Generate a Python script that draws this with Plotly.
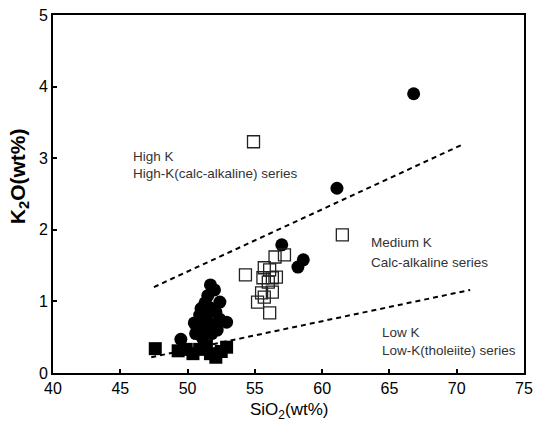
import plotly.graph_objects as go

# Filled circles
circ_sio2 = [51.7, 52.0, 51.5, 51.3, 52.4, 51.0, 51.6, 50.9, 51.4, 52.1, 50.5, 51.0,
             51.6, 52.9, 52.4, 51.1, 50.7, 51.5, 52.2, 49.5, 51.1, 50.6, 51.8,
             57.0, 58.6, 58.2, 61.1, 66.8]
circ_k2o = [1.23, 1.16, 1.08, 0.98, 0.99, 0.90, 0.92, 0.81, 0.82, 0.85, 0.70, 0.72,
            0.70, 0.71, 0.75, 0.60, 0.62, 0.64, 0.60, 0.47, 0.49, 0.55, 0.55,
            1.79, 1.58, 1.48, 2.58, 3.90]

# Filled squares
sq_sio2 = [47.6, 49.3, 49.9, 50.4, 50.9, 51.4, 51.7, 52.1, 52.5, 52.9]
sq_k2o = [0.34, 0.31, 0.33, 0.27, 0.33, 0.38, 0.27, 0.22, 0.30, 0.36]

# Open squares
osq_sio2 = [54.9, 61.5, 56.5, 57.2, 54.3, 55.7, 55.6, 56.3, 56.6, 56.1, 55.5, 56.3,
            55.2, 56.1, 56.0, 55.7]
osq_k2o = [3.23, 1.93, 1.62, 1.65, 1.37, 1.47, 1.33, 1.33, 1.34, 1.44, 1.12, 1.13,
           0.99, 0.84, 1.27, 1.06]

# Series boundary lines
high_k_x = [47.5, 70.3]
high_k_y = [1.20, 3.18]
low_k_x = [47.3, 71.0]
low_k_y = [0.22, 1.16]

x_ticks = [40, 45, 50, 55, 60, 65, 70, 75]
y_ticks = [0, 1, 2, 3, 4, 5]

fig = go.Figure()

dash_line = dict(color="black", width=2, dash="5px,4px")
fig.add_trace(go.Scatter(x=high_k_x, y=high_k_y, mode="lines", line=dash_line))
fig.add_trace(go.Scatter(x=low_k_x, y=low_k_y, mode="lines", line=dash_line))

fig.add_trace(go.Scatter(x=circ_sio2, y=circ_k2o, mode="markers",
                         marker=dict(symbol="circle", size=13, color="black",
                                     line=dict(width=0))))
fig.add_trace(go.Scatter(x=sq_sio2, y=sq_k2o, mode="markers",
                         marker=dict(symbol="square", size=13, color="black",
                                     line=dict(width=0))))
fig.add_trace(go.Scatter(x=osq_sio2, y=osq_k2o, mode="markers",
                         marker=dict(symbol="square-open", size=12, color="#222",
                                     line=dict(width=1.3))))

label_font = dict(family="Liberation Sans, Arial", size=13.5, color="#333")
labels = [
    (45.8, 3.02, "High K"),
    (45.8, 2.78, "High-K(calc-alkaline) series"),
    (63.5, 1.82, "Medium K"),
    (63.5, 1.55, "Calc-alkaline series"),
    (64.3, 0.57, "Low K"),
    (64.3, 0.32, "Low-K(tholeiite) series"),
]
for x, y, t in labels:
    fig.add_annotation(x=x, y=y, text=t, showarrow=False, xanchor="left",
                       yanchor="middle", font=label_font)

# Axis titles
fig.add_annotation(x=-0.072, y=0.55, xref="paper", yref="paper",
                   text="<b>K<sub>2</sub>O(wt%)</b>",
                   showarrow=False, textangle=-90, xanchor="center", yanchor="middle",
                   font=dict(family="Liberation Sans, Arial", size=21, color="black"))
fig.add_annotation(x=0.5, y=0.0, xref="paper", yref="paper", text="SiO<sub>2</sub>(wt%)",
                   showarrow=False, xanchor="center", yanchor="middle", yshift=-38,
                   font=dict(family="Liberation Sans, Arial", size=17, color="black"))

axis_common = dict(showline=True, linecolor="black", linewidth=2, mirror=True,
                   ticks="inside", ticklen=4, tickwidth=1.5, tickcolor="black",
                   showgrid=False, zeroline=False, automargin=False,
                   tickfont=dict(family="Liberation Sans, Arial", size=16, color="black"))

fig.update_xaxes(range=[40, 75], tickvals=x_ticks, **axis_common)
fig.update_yaxes(range=[0, 5], tickvals=y_ticks, **axis_common)

fig.update_layout(width=533, height=422, showlegend=False,
                  margin=dict(l=53, r=9, t=15, b=49),
                  plot_bgcolor="white", paper_bgcolor="white")

fig.write_html("out.html")
